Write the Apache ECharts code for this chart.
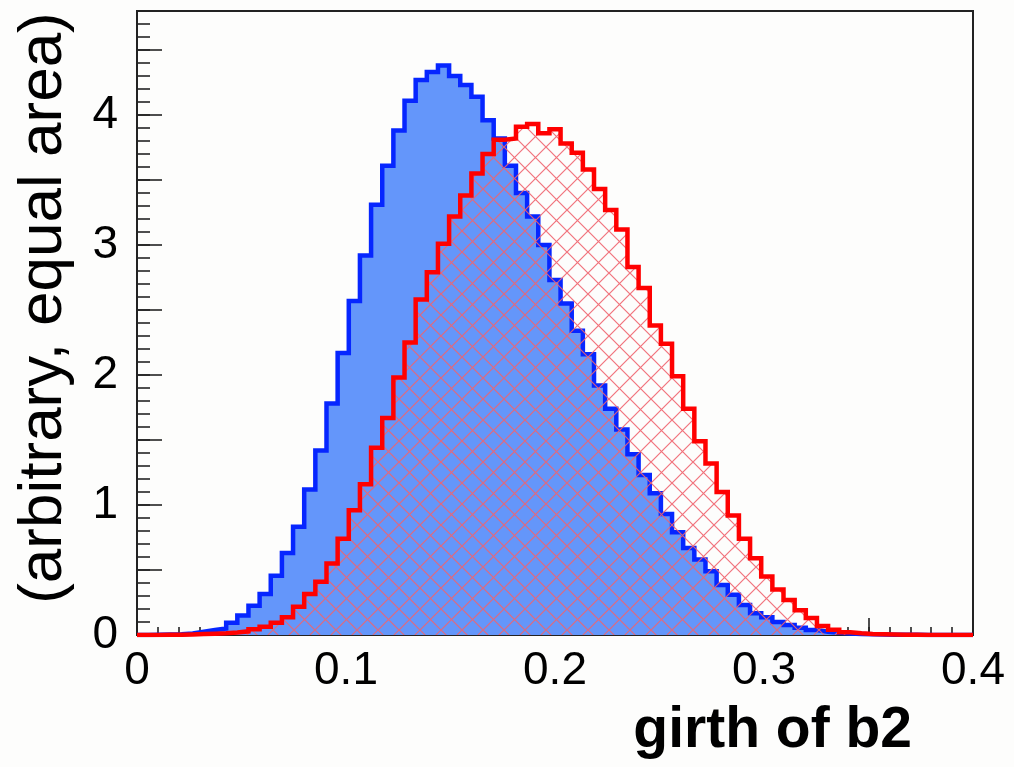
<!DOCTYPE html>
<html>
<head>
<meta charset="utf-8">
<script src="https://cdn.jsdelivr.net/npm/echarts@6.0.0/dist/echarts.min.js"></script>
<style>
  html, body { margin: 0; padding: 0; background: #fdfdfc; }
  #chart { width: 1014px; height: 767px; }
</style>
</head>
<body>
<div id="chart"></div>
<script>
// ---- data ----
const xMin = 0, xMax = 0.4, nBins = 75;
const xTickLabels = ['0', '0.1', '0.2', '0.3', '0.4'];
const yTickLabels = ['0', '1', '2', '3', '4'];
const xTitle = 'girth of b2';
const yTitle = '(arbitrary, equal area)';

// blue filled histogram
const blueValues = [
  0, 0.001, 0.003, 0.006, 0.012, 0.025, 0.038, 0.05, 0.095, 0.15,
  0.225, 0.315, 0.456, 0.63, 0.833, 1.12, 1.42, 1.78, 2.17, 2.57,
  2.92, 3.31, 3.61, 3.88, 4.11, 4.27, 4.33, 4.38, 4.30, 4.23,
  4.14, 3.96, 3.82, 3.61, 3.40, 3.22, 3.00, 2.73, 2.55, 2.34,
  2.16, 1.92, 1.74, 1.58, 1.39, 1.23, 1.09, 0.93, 0.79, 0.67,
  0.58, 0.49, 0.385, 0.31, 0.23, 0.167, 0.136, 0.10, 0.077, 0.056,
  0.038, 0.025, 0.018, 0.012, 0.008, 0.005, 0.003, 0.002, 0.001, 0.001,
  0, 0, 0, 0, 0
];
// red hatched histogram
const redValues = [
  0, 0, 0.001, 0.002, 0.004, 0.007, 0.01, 0.014, 0.02, 0.028,
  0.044, 0.064, 0.095, 0.136, 0.218, 0.315, 0.41, 0.55, 0.74, 0.96,
  1.16, 1.44, 1.67, 1.98, 2.25, 2.58, 2.79, 3.01, 3.22, 3.38,
  3.55, 3.70, 3.81, 3.82, 3.91, 3.93, 3.86, 3.89, 3.78, 3.71,
  3.58, 3.43, 3.27, 3.12, 2.83, 2.67, 2.38, 2.24, 1.99, 1.74,
  1.49, 1.32, 1.10, 0.92, 0.74, 0.59, 0.45, 0.35, 0.27, 0.19,
  0.13, 0.07, 0.04, 0.022, 0.013, 0.008, 0.005, 0.003, 0.002, 0.001,
  0, 0, 0, 0, 0
];

// ---- helpers ----
const binW = (xMax - xMin) / nBins;
function stepPoints(vals) {
  const pts = [];
  for (let i = 0; i < vals.length; i++) pts.push([xMin + i * binW, vals[i]]);
  pts.push([xMax, vals[vals.length - 1]]);
  return pts;
}
function hatchPattern() {
  const s = 21;
  const c = document.createElement('canvas');
  c.width = s; c.height = s;
  const g = c.getContext('2d');
  g.strokeStyle = 'rgba(240,100,110,0.9)';
  g.lineWidth = 1.2;
  g.beginPath();
  for (const k of [-s, 0, s]) {
    g.moveTo(-2 + k, -2); g.lineTo(s + 2 + k, s + 2);
    g.moveTo(s + 2 + k, -2); g.lineTo(-2 + k, s + 2);
  }
  g.stroke();
  return c;
}
function isMult(v, step) {
  const t = v / step;
  return Math.abs(t - Math.round(t)) < 1e-6;
}

const font = '"Liberation Sans", Arial, Helvetica, sans-serif';
const chart = echarts.init(document.getElementById('chart'), null, { renderer: 'canvas' });

const baseX = {
  type: 'value', min: xMin, max: xMax, position: 'bottom',
  splitLine: { show: false }, axisLine: { onZero: false, show: true, lineStyle: { color: '#222', width: 2 } }
};
const baseY = {
  type: 'value', min: 0, max: 4.8, position: 'left',
  splitLine: { show: false }, axisLine: { onZero: false, show: true, lineStyle: { color: '#222', width: 2 } }
};

chart.setOption({
  animation: false,
  backgroundColor: '#fdfdfc',
  grid: {
    left: 137, top: 11, width: 836, height: 624,
    show: true, borderColor: '#222', borderWidth: 2, backgroundColor: 'transparent',
    containLabel: false, outerBoundsMode: 'none'
  },
  xAxis: [
    Object.assign({}, baseX, {
      interval: 0.01,
      axisTick: { show: true, inside: true, length: 8, lineStyle: { color: '#222', width: 1.6 } },
      axisLabel: { show: false }
    }),
    Object.assign({}, baseX, {
      interval: 0.05,
      axisTick: { show: true, inside: true, length: 17, lineStyle: { color: '#222', width: 1.6 } },
      axisLabel: {
        show: true, margin: 13, color: '#000', fontSize: 46, fontFamily: font,
        hideOverlap: false, showMinLabel: true, showMaxLabel: true,
        formatter: v => isMult(v, 0.1) ? xTickLabels[Math.round(v / 0.1)] : ''
      }
    })
  ],
  yAxis: [
    Object.assign({}, baseY, {
      interval: 0.1,
      axisTick: { show: true, inside: true, length: 13, lineStyle: { color: '#222', width: 1.6 } },
      axisLabel: { show: false }
    }),
    Object.assign({}, baseY, {
      interval: 0.5,
      axisTick: { show: true, inside: true, length: 25, lineStyle: { color: '#222', width: 1.6 } },
      axisLabel: {
        show: true, margin: 19, color: '#000', fontSize: 46, fontFamily: font,
        hideOverlap: false, showMinLabel: true, showMaxLabel: false,
        formatter: v => isMult(v, 1) && Math.round(v) < yTickLabels.length ? yTickLabels[Math.round(v)] : ''
      }
    })
  ],
  series: [
    {
      type: 'line', xAxisIndex: 0, yAxisIndex: 0, step: 'end', symbol: 'none',
      data: stepPoints(blueValues),
      lineStyle: { color: '#0626ff', width: 4.5, join: 'miter' },
      areaStyle: { color: '#6496fa', opacity: 1 },
      z: 2
    },
    {
      type: 'line', xAxisIndex: 0, yAxisIndex: 0, step: 'end', symbol: 'none',
      data: stepPoints(redValues),
      lineStyle: { color: '#ff0000', width: 4.5, join: 'miter' },
      areaStyle: { color: { image: hatchPattern(), repeat: 'repeat' }, opacity: 1 },
      z: 3
    }
  ],
  graphic: [
    {
      type: 'text', x: 44, y: 308, rotation: Math.PI / 2,
      style: { text: yTitle, fontSize: 62, fontFamily: font, fill: '#000', align: 'center', verticalAlign: 'middle' }
    },
    {
      type: 'text', x: 912, y: 731,
      style: { text: xTitle, fontSize: 57, fontWeight: 'bold', fontFamily: font, fill: '#000', align: 'right', verticalAlign: 'middle' }
    }
  ]
});
</script>
</body>
</html>
